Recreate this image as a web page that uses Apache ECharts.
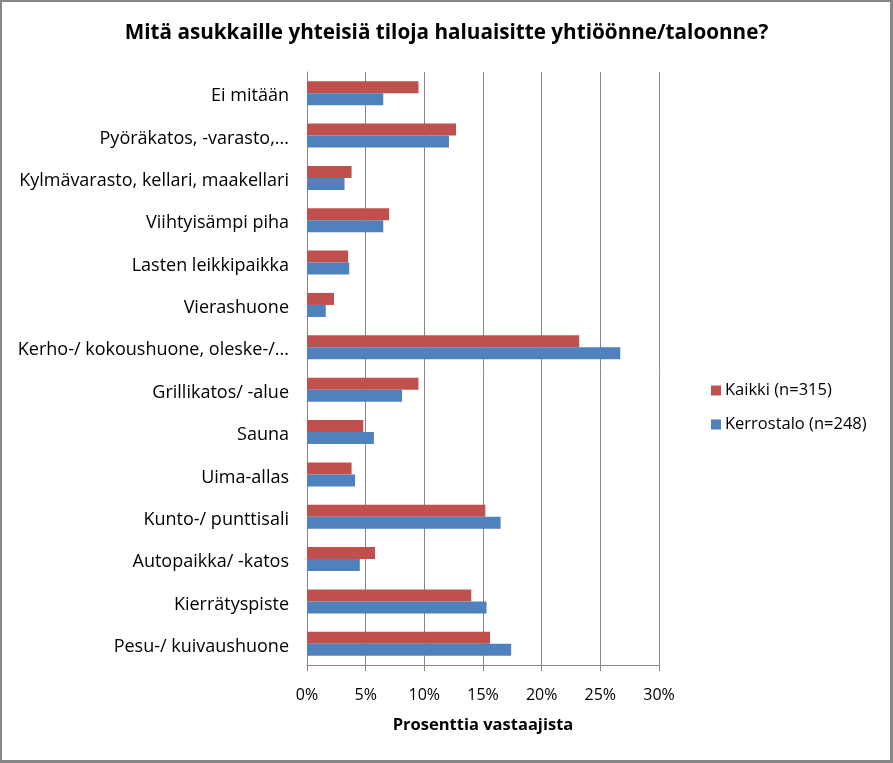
<!DOCTYPE html>
<html>
<head>
<meta charset="utf-8">
<script src="https://cdn.jsdelivr.net/npm/echarts@6/dist/echarts.min.js"></script>
<style>
html,body{margin:0;padding:0;background:#fff;}
#wrap{position:relative;width:893px;height:763px;}
#chart{position:absolute;left:0;top:0;width:893px;height:763px;}
#border{position:absolute;left:0;top:0;width:893px;height:763px;box-sizing:border-box;border-style:solid;border-color:#868686;border-width:2px 3px 3px 2px;pointer-events:none;}
</style>
</head>
<body>
<div id="wrap"><div id="chart"></div><div id="border"></div></div>
<script>
const titleText = "Mitä asukkaille yhteisiä tiloja haluaisitte yhtiöönne/taloonne?";
const axisName = "Prosenttia vastaajista";
const categories = [
  "Ei mitään",
  "Pyöräkatos, -varasto,...",
  "Kylmävarasto, kellari, maakellari",
  "Viihtyisämpi piha",
  "Lasten leikkipaikka",
  "Vierashuone",
  "Kerho-/ kokoushuone, oleske-/...",
  "Grillikatos/ -alue",
  "Sauna",
  "Uima-allas",
  "Kunto-/ punttisali",
  "Autopaikka/ -katos",
  "Kierrätyspiste",
  "Pesu-/ kuivaushuone"
];
const seriesNames = ["Kaikki (n=315)", "Kerrostalo (n=248)"];
const kaikki = [9.5, 12.7, 3.8, 7.0, 3.5, 2.3, 23.2, 9.5, 4.8, 3.8, 15.2, 5.8, 14.0, 15.6];
const kerrostalo = [6.5, 12.1, 3.2, 6.5, 3.6, 1.6, 26.7, 8.1, 5.7, 4.1, 16.5, 4.5, 15.3, 17.4];
const xMin = 0, xMax = 30, xStep = 5;

const font = "'Open Sans', sans-serif";
const chart = echarts.init(document.getElementById('chart'), null, {renderer: 'canvas'});
chart.setOption({
  animation: false,
  backgroundColor: '#fff',
  textStyle: {fontFamily: font},
  title: {
    text: titleText,
    left: 'center',
    top: 18,
    textStyle: {fontFamily: font, fontSize: 20.7, fontWeight: 'bold', color: '#000'}
  },
  legend: {
    orient: 'vertical',
    left: 706,
    top: 377,
    itemWidth: 10,
    itemHeight: 10,
    itemGap: 17,
    icon: 'rect',
    data: seriesNames,
    textStyle: {fontFamily: font, fontSize: 16.5, color: '#000', padding: [0,0,0,-1]}
  },
  grid: {left: 307, right: 234, top: 72, bottom: 98, containLabel: false},
  xAxis: {
    type: 'value',
    min: xMin, max: xMax, interval: xStep,
    axisLine: {show: true, lineStyle: {color: '#868686', width: 1}},
    axisTick: {show: true, length: 6, lineStyle: {color: '#868686'}},
    splitLine: {show: true, lineStyle: {color: '#868686', width: 1}},
    axisLabel: {formatter: '{value}%', fontSize: 16, color: '#000', margin: 22, fontFamily: font},
    name: axisName,
    nameLocation: 'middle',
    nameGap: 52,
    nameTextStyle: {fontSize: 16.5, fontWeight: 'bold', color: '#000', fontFamily: font}
  },
  yAxis: {
    type: 'category',
    inverse: true,
    data: categories,
    axisLine: {show: true, lineStyle: {color: '#868686', width: 1}},
    axisTick: {show: false},
    splitLine: {show: false},
    axisLabel: {
      margin: 18,
      formatter: function (v) { return '{a|' + v + '}'; },
      rich: {a: {fontSize: 18, color: '#000', fontFamily: font, padding: [6, 0, 0, 0]}}
    }
  },
  series: [
    {name: seriesNames[0], type: 'bar', data: kaikki, barWidth: 12, barGap: '0%', itemStyle: {color: '#C0504D'}},
    {name: seriesNames[1], type: 'bar', data: kerrostalo, barWidth: 12, barGap: '0%', itemStyle: {color: '#4F81BD'}}
  ]
});
</script>
</body>
</html>
